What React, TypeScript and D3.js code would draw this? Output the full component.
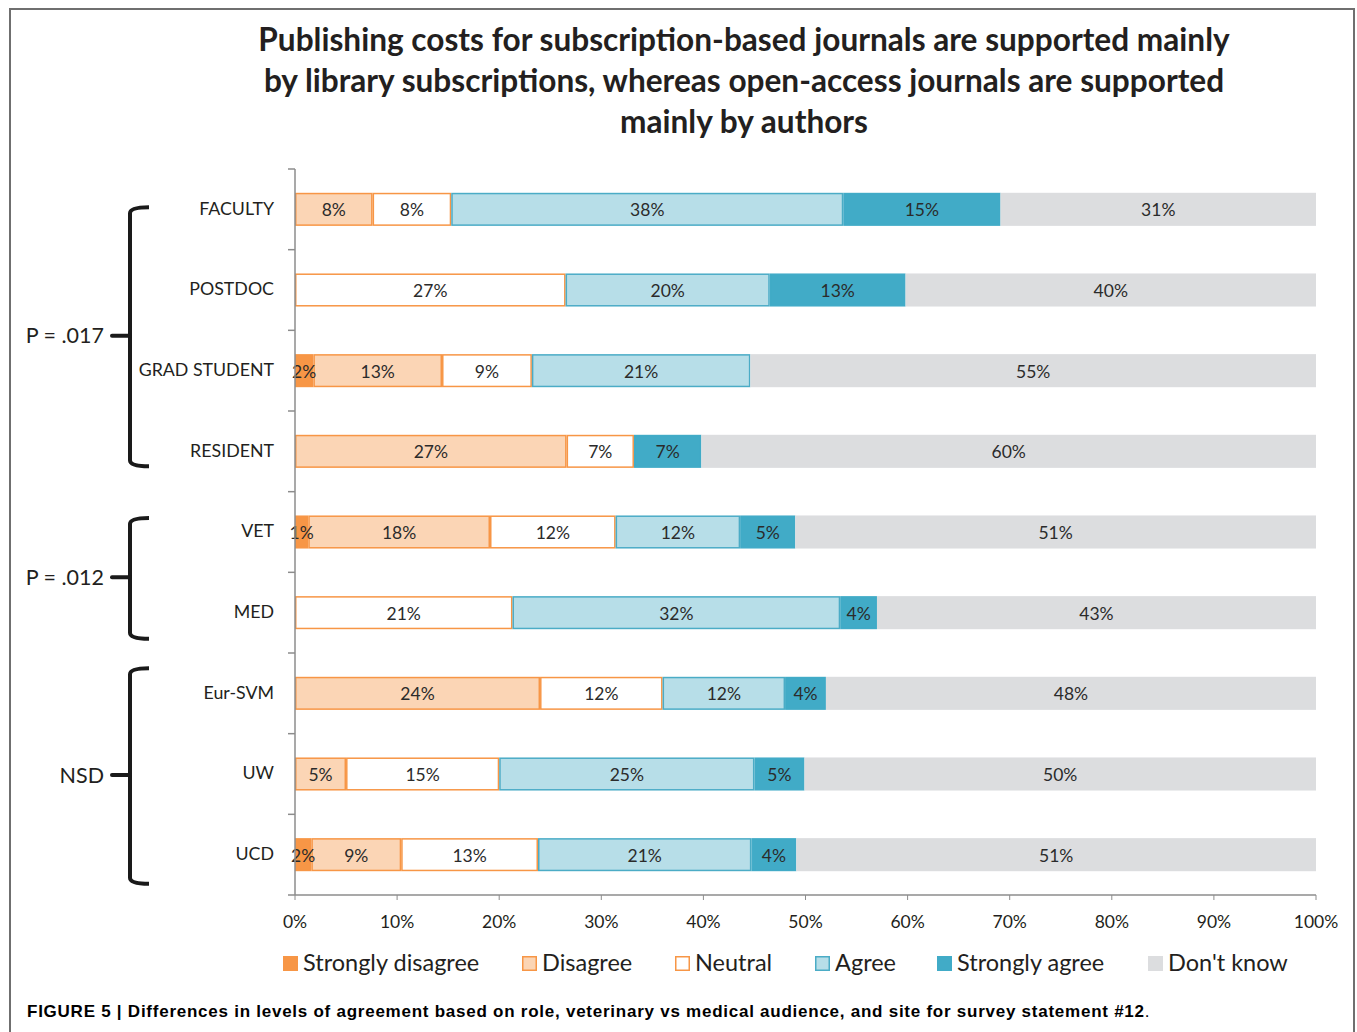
import React from "react";
import * as d3 from "d3";

const categories = ["FACULTY", "POSTDOC", "GRAD STUDENT", "RESIDENT", "VET", "MED", "Eur-SVM", "UW", "UCD"];
const seriesNames = ["Strongly disagree", "Disagree", "Neutral", "Agree", "Strongly agree", "Don't know"];
// values in % per category, order: SD, D, N, A, SA, DK
const stronglyDisagree = [0, 0, 1.8, 0, 1.3, 0, 0, 0, 1.6];
const disagree = [7.6, 0, 12.6, 26.6, 17.8, 0, 24.0, 5.0, 8.8];
const neutral = [7.7, 26.5, 8.8, 6.6, 12.3, 21.3, 12.0, 15.0, 13.4];
const agree = [38.4, 20.0, 21.4, 0, 12.2, 32.1, 12.0, 25.0, 20.9];
const stronglyAgree = [15.4, 13.3, 0, 6.6, 5.4, 3.6, 4.0, 4.9, 4.4];
const dontKnow = [30.9, 40.2, 55.4, 60.2, 51.0, 43.0, 48.0, 50.1, 50.9];
const xTicks = [0, 10, 20, 30, 40, 50, 60, 70, 80, 90, 100];
const titleLines = [
  "Publishing costs for subscription-based journals are supported mainly",
  "by library subscriptions, whereas open-access journals are supported",
  "mainly by authors",
];
const groupLabels = ["P = .017", "P = .012", "NSD"];
const groupFrom = [0, 4, 6];
const groupTo = [3, 5, 8];
const captionBold = "FIGURE 5 | Differences in levels of agreement based on role, veterinary vs medical audience, and site for survey statement #12";

const fills = ["#F79646", "#FBD5B5", "#FFFFFF", "#B7DEE8", "#41ABC7", "#DCDDDF"];
const strokes = ["#F79646", "#F79646", "#F79646", "#4BACC6", "#41ABC7", "#DCDDDF"];
const legendX = [283, 522, 675, 815, 937, 1148];
// bracket extents relative to first/last band centres (layout)
const bracketTopOffset = [-2, -14, -25];
const bracketBotOffset = [15, 26, 29];

const FONT = "Lato, 'Open Sans', sans-serif";

export default function App() {
  const seriesArr = [stronglyDisagree, disagree, neutral, agree, stronglyAgree, dontKnow];
  const x = d3.scaleLinear().domain([0, 100]).range([295, 1316]);
  const y = d3.scaleBand<string>().domain(categories).range([169, 895]).paddingInner(0.59).paddingOuter(0.295);
  const rowStep = y.step();
  const bh = y.bandwidth();
  const cy = (i: number) => (y(categories[i]) as number) + bh / 2;
  const rows = categories.map((c, i) => {
    let acc = 0;
    return seriesArr.map((s, k) => {
      const v = s[i];
      const seg = { k, v, x0: acc, x1: acc + v };
      acc += v;
      return seg;
    });
  });
  const boundaries = d3.range(categories.length + 1).map((i) => 169 + i * rowStep);

  return (
    <svg width={1357} height={1032} style={{ position: "absolute", left: 0, top: 0, background: "#fff" }}>
      <rect x={10} y={9} width={1344} height={1040} fill="#fff" stroke="#6f6f6f" strokeWidth={2} />
      {titleLines.map((t, i) => (
        <text key={i} x={744} y={51 + i * 41} textAnchor="middle" fontFamily={FONT} fontWeight={700} fontSize={31.6} fill="#231f20">
          {t}
        </text>
      ))}
      {/* bars */}
      {rows.map((segs, i) => (
        <g key={categories[i]}>
          {segs.filter((s) => s.v > 0).map((s) => (
            <rect
              key={s.k}
              x={x(s.x0) + 0.75}
              y={(y(categories[i]) as number) + 0.75}
              width={Math.max(0, x(s.x1) - x(s.x0) - 1.5)}
              height={bh - 1.5}
              fill={fills[s.k]}
              stroke={strokes[s.k]}
              strokeWidth={1.5}
            />
          ))}
          {segs.filter((s) => s.v > 0).map((s) => (
            <text
              key={"t" + s.k}
              x={(x(s.x0) + x(s.x1)) / 2}
              y={cy(i) + 1}
              dy="0.35em"
              textAnchor="middle"
              fontFamily={FONT}
              fontSize={17.5}
              fill="#2b2b2b"
            >
              {Math.round(s.v) + "%"}
            </text>
          ))}
          <text x={274} y={cy(i) - 1} dy="0.35em" textAnchor="end" fontFamily={FONT} fontSize={17.8} fill="#231f20">
            {categories[i]}
          </text>
        </g>
      ))}
      {/* y axis */}
      <line x1={295} x2={295} y1={169} y2={895} stroke="#8c8c8c" strokeWidth={1.5} />
      {boundaries.map((b, i) => (
        <line key={i} x1={288} x2={295} y1={b} y2={b} stroke="#8c8c8c" strokeWidth={1.5} />
      ))}
      {/* x axis */}
      <line x1={295} x2={1316} y1={895} y2={895} stroke="#8c8c8c" strokeWidth={1.5} />
      {xTicks.map((t) => (
        <g key={t}>
          <line x1={x(t)} x2={x(t)} y1={895} y2={900} stroke="#8c8c8c" strokeWidth={1} />
          <text x={x(t)} y={922} dy="0.35em" textAnchor="middle" fontFamily={FONT} fontSize={17.5} fill="#231f20">
            {t + "%"}
          </text>
        </g>
      ))}
      {/* brackets */}
      {groupLabels.map((label, gi) => {
        const top = cy(groupFrom[gi]) + bracketTopOffset[gi];
        const bot = cy(groupTo[gi]) + bracketBotOffset[gi];
        const mid = (top + bot) / 2 - 1;
        const bx = 130;
        return (
          <g key={label}>
            <path
              d={`M149,${top} Q${bx},${top} ${bx},${top + 6} L${bx},${bot - 6} Q${bx},${bot} 149,${bot}`}
              fill="none"
              stroke="#1a1a1a"
              strokeWidth={4}
            />
            <path d={`M112,${mid} L${bx},${mid}`} stroke="#1a1a1a" strokeWidth={4} strokeLinecap="round" />
            <text x={104} y={mid} dy="0.35em" textAnchor="end" fontFamily={FONT} fontSize={21.5} fill="#231f20">
              {label}
            </text>
          </g>
        );
      })}
      {/* legend */}
      {seriesNames.map((n, k) => (
        <g key={n}>
          <rect x={legendX[k] + 0.75} y={956.75} width={13.5} height={13.5} fill={fills[k]} stroke={strokes[k]} strokeWidth={1.5} />
          <text x={legendX[k] + 20} y={963} dy="0.35em" fontFamily={FONT} fontSize={23.5} fill="#231f20">
            {n}
          </text>
        </g>
      ))}
      <text x={27} y={1011} dy="0.35em" fontFamily="'Liberation Sans', Arial, sans-serif" fontSize={17} letterSpacing={0.75} fill="#000">
        <tspan fontWeight={700}>{captionBold}</tspan>
        <tspan>.</tspan>
      </text>
    </svg>
  );
}
